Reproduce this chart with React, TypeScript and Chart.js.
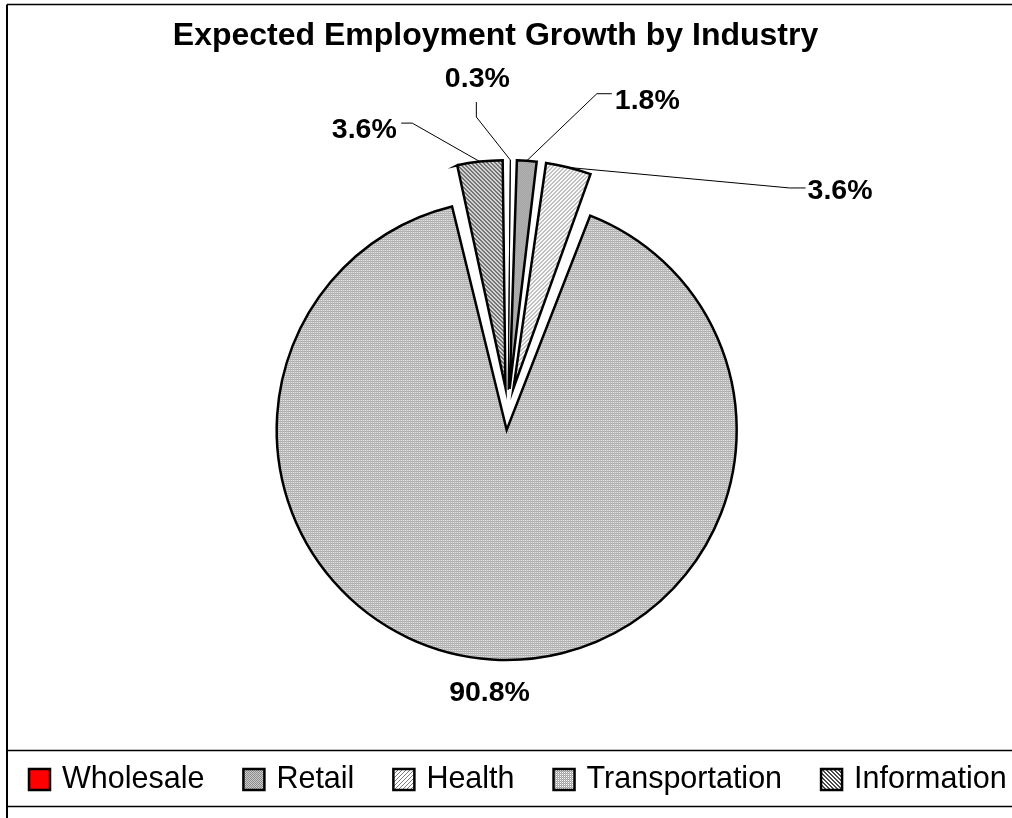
import React, { useEffect, useRef } from "react";
import { Chart, registerables } from "chart.js";

Chart.register(...registerables);

// ---------- data ----------
const TITLE = "Expected Employment Growth by Industry";
const categories = ["Wholesale", "Retail", "Health", "Transportation", "Information"];
const shares = [0.3, 1.8, 3.6, 90.8, 3.6];
const shareLabels = shares.map((v) => v.toFixed(1) + "%");

// ---------- style ----------
const EXPLODE = 20; // px each slice is pulled away from the centre
const FONT = "'Liberation Sans', Arial, Helvetica, sans-serif";
const sliceBorders = [1, 2.5, 2.5, 2.5, 2.5];

// label placement relative to each slice's outer mid-point (style only)
type Place = { dx: number; dy: number; align: CanvasTextAlign; leader: number[][] };
const labelPlacement: Place[] = [
  { dx: -33, dy: -73, align: "center", leader: [[-34, -43], [-34, -58]] },
  { dx: 88, dy: -52, align: "left", leader: [[70, -67], [85, -67]] },
  { dx: 239, dy: 32, align: "left", leader: [[221, 20.5], [237, 20.5]] },
  { dx: -2, dy: 41.5, align: "center", leader: [] },
  { dx: -83, dy: -24, align: "right", leader: [[-67.6, -38.5], [-78.6, -38.5]] },
];

function tile(size: number, paint: (x: number, y: number) => string): CanvasPattern | string {
  const c = document.createElement("canvas");
  c.width = size;
  c.height = size;
  const g = c.getContext("2d")!;
  for (let y = 0; y < size; y++) {
    for (let x = 0; x < size; x++) {
      g.fillStyle = paint(x, y);
      g.fillRect(x, y, 1, 1);
    }
  }
  return g.createPattern(c, "repeat") || "#c0c0c0";
}

function makeFills(): (CanvasPattern | string)[] {
  return [
    "#ff0000",
    tile(2, (x, y) => ((x + y) % 2 === 0 ? "#8c8c8c" : "#cacaca")),
    tile(4, (x, y) => ((x + y) % 4 === 3 ? "#7a7a7a" : "#ffffff")),
    tile(2, (x, y) => (x === 0 && y === 0 ? "#ffffff" : x === 1 && y === 1 ? "#bdbdbd" : "#a4a4a4")),
    tile(4, (x, y) => (((x - y + 8) % 4) < 2 ? "#4a4a4a" : "#ffffff")),
  ];
}

// Chart.js moves an arc by offset/4 and grows it by offset/4 * fix;
// pick the offset so that every slice's outer edge is pushed out by 2*EXPLODE.
function explodeOffset(ctx: any): number {
  const data = ctx.dataset.data as number[];
  const total = data.reduce((a, b) => a + b, 0);
  const circ = ((data[ctx.dataIndex] || 0) / total) * Math.PI * 2;
  const fix = 1 - Math.sin(Math.min(Math.PI, circ));
  return (8 * EXPLODE) / (1 + fix);
}

const decorPlugin = {
  id: "decor",
  afterDraw(chart: any) {
    const ctx: CanvasRenderingContext2D = chart.ctx;
    const W = chart.width;
    const H = chart.height;
    ctx.save();

    // outer frame (left + top) and legend box lines
    ctx.strokeStyle = "#000";
    ctx.lineWidth = 2;
    ctx.beginPath();
    ctx.moveTo(7, H);
    ctx.lineTo(7, 4.5);
    ctx.stroke();
    ctx.lineWidth = 1.5;
    ctx.beginPath();
    ctx.moveTo(7, 4.5);
    ctx.lineTo(W, 4.5);
    ctx.moveTo(7, 750.5);
    ctx.lineTo(W, 750.5);
    ctx.moveTo(7, 806.5);
    ctx.lineTo(W, 806.5);
    ctx.stroke();

    // title
    ctx.fillStyle = "#000";
    ctx.font = `bold 32px ${FONT}`;
    ctx.textAlign = "center";
    ctx.textBaseline = "alphabetic";
    ctx.fillText(TITLE, 495.5, 45);

    // data labels with leader lines
    const meta = chart.getDatasetMeta(0);
    ctx.font = `bold 28.5px ${FONT}`;
    meta.data.forEach((arc: any, i: number) => {
      const p = arc.getProps(["x", "y", "startAngle", "endAngle", "outerRadius"], true);
      const off = (arc.options.offset || 0) / 4;
      const mid = (p.startAngle + p.endAngle) / 2;
      const circ = p.endAngle - p.startAngle;
      const fix = 1 - Math.sin(Math.min(Math.PI, circ));
      const dist = off + p.outerRadius + off * fix;
      const px = p.x + Math.cos(mid) * dist;
      const py = p.y + Math.sin(mid) * dist;
      const pl = labelPlacement[i];
      if (pl.leader.length) {
        ctx.strokeStyle = "#000";
        ctx.lineWidth = 1;
        ctx.beginPath();
        ctx.moveTo(px, py);
        pl.leader.forEach(([lx, ly]) => ctx.lineTo(px + lx, py + ly));
        ctx.stroke();
      }
      ctx.textAlign = pl.align;
      ctx.fillText(shareLabels[i], px + pl.dx, py + pl.dy);
    });

    // legend
    const fills = chart.data.datasets[0].backgroundColor as (CanvasPattern | string)[];
    ctx.font = `30.5px ${FONT}`;
    ctx.textAlign = "left";
    let x = 29;
    chart.data.labels.forEach((lab: string, i: number) => {
      ctx.fillStyle = fills[i] as any;
      ctx.fillRect(x, 769, 21, 21);
      ctx.strokeStyle = "#000";
      ctx.lineWidth = 2.5;
      ctx.strokeRect(x, 769, 21, 21);
      ctx.fillStyle = "#000";
      const tx = x + 33;
      ctx.fillText(lab, tx, 788);
      x = tx + ctx.measureText(lab).width + 39;
    });

    ctx.restore();
  },
};

export default function App() {
  const ref = useRef<HTMLCanvasElement>(null);
  useEffect(() => {
    const canvas = ref.current!;
    const fills = makeFills();
    const chart = new Chart(canvas, {
      type: "pie",
      data: {
        labels: categories,
        datasets: [
          {
            data: shares,
            backgroundColor: fills as any,
            borderColor: "#000",
            borderWidth: sliceBorders,
            borderJoinStyle: "miter",
            radius: 210,
            offset: explodeOffset as any,
          } as any,
        ],
      },
      options: {
        responsive: false,
        animation: false,
        events: [],
        layout: { padding: { left: 4, top: 2, right: 0, bottom: 0 } },
        plugins: {
          legend: { display: false },
          title: { display: false },
          tooltip: { enabled: false },
        },
      },
      plugins: [decorPlugin],
    });
    return () => chart.destroy();
  }, []);

  return (
    <div
      style={{
        position: "absolute",
        left: 0,
        top: 0,
        width: 1012,
        height: 818,
        overflow: "hidden",
        background: "#fff",
      }}
    >
      <canvas ref={ref} width={1012} height={818} style={{ display: "block" }} />
    </div>
  );
}
